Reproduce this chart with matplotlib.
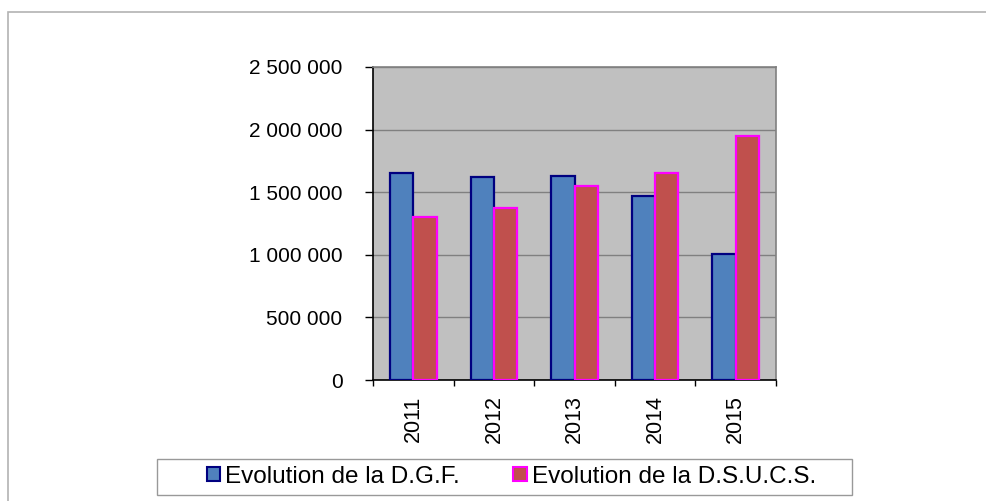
import matplotlib
matplotlib.use("Agg")
import matplotlib.pyplot as plt
import matplotlib.patches as mpatches
from matplotlib.ticker import FuncFormatter
import numpy as np

plt.rcParams["font.family"] = ["Liberation Sans", "DejaVu Sans"]

years = ["2011", "2012", "2013", "2014", "2015"]
dgf = [1650000, 1620000, 1628000, 1467000, 1005000]
dsucs = [1303000, 1376000, 1549000, 1650000, 1948000]
series_names = ["Evolution de la D.G.F.", "Evolution de la D.S.U.C.S."]

W, H = 986, 501
fig = plt.figure(figsize=(W / 100, H / 100), dpi=100)

# outer frame (only top and left edges visible in the reference)
fig.patches.append(mpatches.Rectangle((8 / W, -0.1), 1.2, 1 - 12 / H + 0.1,
                                      transform=fig.transFigure, fill=False,
                                      edgecolor="#b3b3b3", linewidth=1.2))

ax = fig.add_axes([373 / W, 1 - 380 / H, (776 - 373) / W, (380 - 67) / H])
ax.set_facecolor("#c0c0c0")

x = np.arange(len(years))
bw = 0.29
ax.bar(x - bw / 2, dgf, bw, color="#4f81bd", edgecolor="#000080",
       linewidth=1.6, zorder=3)
ax.bar(x + bw / 2, dsucs, bw, color="#c0504d", edgecolor="#ff00ff",
       linewidth=1.6, zorder=3)

ax.set_xlim(-0.5, len(years) - 0.5)
ax.set_ylim(0, 2500000)
ax.set_yticks(np.arange(0, 2500001, 500000))
ax.yaxis.set_major_formatter(FuncFormatter(lambda v, p: f"{int(v):,}".replace(",", " ")))
ax.grid(axis="y", color="#808080", linewidth=1.0, zorder=1)

ax.set_xticks(x)
ax.set_xticklabels(years, rotation=90, fontsize=15.5)
ax.set_xticks(np.arange(-0.5, len(years)), minor=True)
ax.tick_params(axis="x", which="major", length=0, pad=11)
ax.tick_params(axis="x", which="minor", length=4, width=1, direction="out", color="black")
ax.tick_params(axis="y", length=6, width=1, direction="out", pad=16, labelsize=15)

for s in ("left", "bottom"):
    ax.spines[s].set_color("black")
    ax.spines[s].set_linewidth(1.2)
for s in ("top", "right"):
    ax.spines[s].set_color("#808080")
    ax.spines[s].set_linewidth(1.2)

# legend box drawn separately so it can be wider than its content
box = (157, 459, 852, 495)
fig.patches.append(mpatches.Rectangle((box[0] / W, 1 - box[3] / H),
                                      (box[2] - box[0]) / W, (box[3] - box[1]) / H,
                                      transform=fig.transFigure, fill=False,
                                      edgecolor="#999999", linewidth=1.0))
handles = [
    mpatches.Patch(facecolor="#4f81bd", edgecolor="#000080", linewidth=1.5, label=series_names[0]),
    mpatches.Patch(facecolor="#c0504d", edgecolor="#ff00ff", linewidth=1.5, label=series_names[1]),
]
fig.legend(handles=handles, loc="center",
           bbox_to_anchor=((box[0] + box[2]) / 2 / W + 0.007, 1 - (box[1] + box[3]) / 2 / H),
           ncol=2, fontsize=17.5, frameon=False,
           handlelength=0.55, handleheight=0.5, handletextpad=0.2,
           columnspacing=2.2, borderaxespad=0, borderpad=0)

fig.savefig("out.png", dpi=100)
